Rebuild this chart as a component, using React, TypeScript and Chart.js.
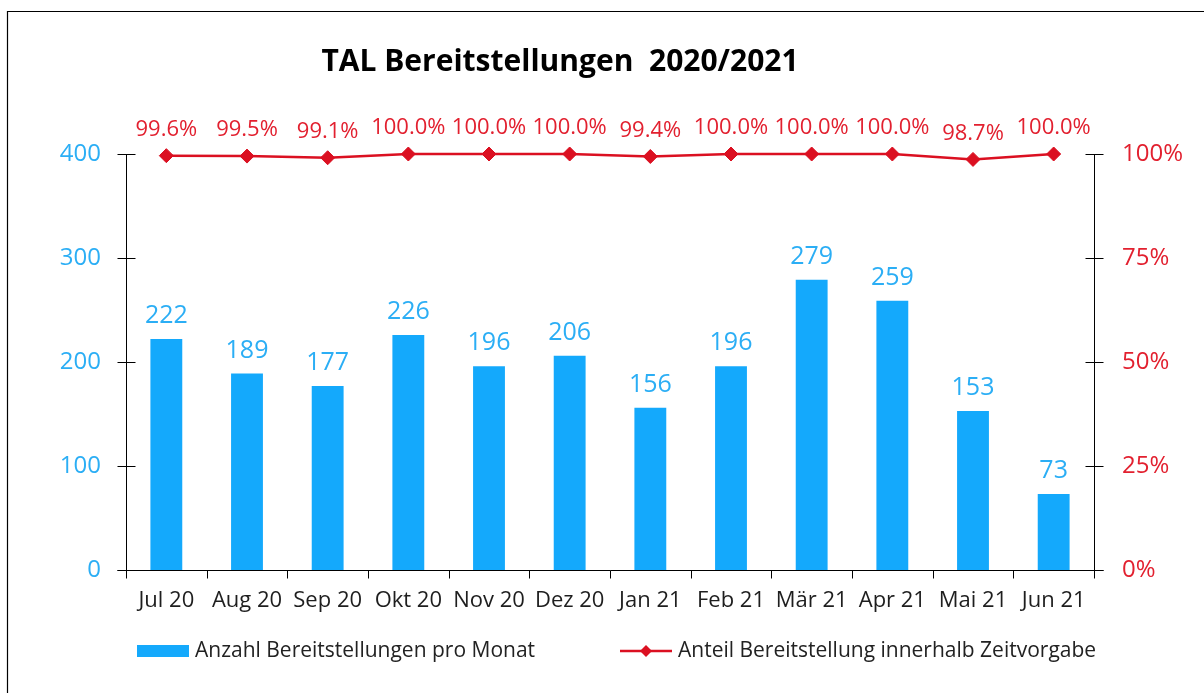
import React, { useEffect, useRef } from "react";
import { Chart, registerables } from "chart.js";

Chart.register(...registerables);

const title = "TAL Bereitstellungen  2020/2021";
const categories = ["Jul 20", "Aug 20", "Sep 20", "Okt 20", "Nov 20", "Dez 20", "Jan 21", "Feb 21", "Mär 21", "Apr 21", "Mai 21", "Jun 21"];
const bereitstellungen = [222, 189, 177, 226, 196, 206, 156, 196, 279, 259, 153, 73];
const anteil = [99.6, 99.5, 99.1, 100.0, 100.0, 100.0, 99.4, 100.0, 100.0, 100.0, 98.7, 100.0];
const leftTicks = [0, 100, 200, 300, 400];
const rightTicks = [0, 25, 50, 75, 100];
const barLegend = "Anzahl Bereitstellungen pro Monat";
const lineLegend = "Anteil Bereitstellung innerhalb Zeitvorgabe";

const FONT = "'Open Sans', 'Noto Sans', sans-serif";
const BAR_COLOR = "#14A9FC";
const BLUE_TEXT = "#2BAEF5";
const LINE_COLOR = "#DB1021";
const RED_TEXT = "#E2202F";
const DARK = "#1E1E1E";

const decorPlugin = {
  id: "decor",
  beforeDraw(chart: any) {
    const ctx = chart.ctx;
    ctx.save();
    ctx.fillStyle = "#ffffff";
    ctx.fillRect(0, 0, chart.width, chart.height);
    ctx.strokeStyle = "#000";
    ctx.lineWidth = 1.2;
    ctx.beginPath();
    ctx.moveTo(7.5, chart.height + 5);
    ctx.lineTo(7.5, 11.5);
    ctx.lineTo(chart.width + 5, 11.5);
    ctx.stroke();
    ctx.restore();
  },
  beforeDatasetsDraw(chart: any) {
    const ctx = chart.ctx;
    const area = chart.chartArea;
    const xs = chart.scales.x;
    const ys = chart.scales.y;
    const y1 = chart.scales.y1;
    ctx.save();
    ctx.strokeStyle = "#000";
    ctx.lineWidth = 1;
    const lx = Math.round(area.left) + 0.5;
    const rx = Math.round(area.right) + 0.5;
    const by = Math.round(area.bottom) + 0.5;
    ctx.beginPath();
    ctx.moveTo(lx, ys.getPixelForValue(leftTicks[leftTicks.length - 1]));
    ctx.lineTo(lx, by + 8);
    ctx.moveTo(rx, y1.getPixelForValue(rightTicks[rightTicks.length - 1]));
    ctx.lineTo(rx, by + 8);
    ctx.moveTo(lx - 9, by);
    ctx.lineTo(rx + 9, by);
    leftTicks.forEach((v) => {
      const py = Math.round(ys.getPixelForValue(v)) + 0.5;
      ctx.moveTo(lx - 9, py);
      ctx.lineTo(lx + 9, py);
    });
    rightTicks.forEach((v) => {
      const py = Math.round(y1.getPixelForValue(v)) + 0.5;
      ctx.moveTo(rx - 9, py);
      ctx.lineTo(rx + 9, py);
    });
    const step = (area.right - area.left) / categories.length;
    for (let i = 1; i < categories.length; i++) {
      const px = Math.round(xs.getPixelForValue(i) - step / 2) + 0.5;
      ctx.moveTo(px, by);
      ctx.lineTo(px, by + 8);
    }
    ctx.stroke();
    ctx.restore();
  },
  afterDatasetsDraw(chart: any) {
    const ctx = chart.ctx;
    ctx.save();
    const barMeta = chart.getDatasetMeta(1);
    ctx.fillStyle = BLUE_TEXT;
    ctx.font = `25px ${FONT}`;
    ctx.textAlign = "center";
    ctx.textBaseline = "middle";
    barMeta.data.forEach((el: any, i: number) => {
      ctx.fillText(String(bereitstellungen[i]), el.x, el.y - 23);
    });
    const lineMeta = chart.getDatasetMeta(0);
    ctx.fillStyle = RED_TEXT;
    ctx.font = `22px ${FONT}`;
    lineMeta.data.forEach((el: any, i: number) => {
      ctx.fillText(anteil[i].toFixed(1) + "%", el.x, el.y - 26);
    });

    ctx.fillStyle = "#000";
    ctx.font = `bold 30px ${FONT}`;
    ctx.fillText(title, 560, 62);

    ctx.textAlign = "left";
    ctx.font = `21px ${FONT}`;
    ctx.fillStyle = BAR_COLOR;
    ctx.fillRect(137, 645, 52, 12);
    ctx.fillStyle = "#222";
    ctx.fillText(barLegend, 195, 651);
    ctx.strokeStyle = LINE_COLOR;
    ctx.lineWidth = 2.5;
    ctx.beginPath();
    ctx.moveTo(620, 651);
    ctx.lineTo(672, 651);
    ctx.stroke();
    ctx.fillStyle = LINE_COLOR;
    ctx.beginPath();
    ctx.moveTo(646, 645);
    ctx.lineTo(652, 651);
    ctx.lineTo(646, 657);
    ctx.lineTo(640, 651);
    ctx.closePath();
    ctx.fill();
    ctx.fillStyle = "#222";
    ctx.fillText(lineLegend, 678, 651);
    ctx.restore();
  },
};

export default function App() {
  const ref = useRef<HTMLCanvasElement | null>(null);
  useEffect(() => {
    if (!ref.current) return;
    const chart = new Chart(ref.current, {
      type: "bar",
      data: {
        labels: categories,
        datasets: [
          {
            type: "line",
            label: lineLegend,
            data: anteil,
            yAxisID: "y1",
            clip: false,
            borderColor: LINE_COLOR,
            backgroundColor: LINE_COLOR,
            borderWidth: 2.5,
            pointStyle: "rectRot",
            pointRadius: 7,
            pointBorderWidth: 1,
            pointBorderColor: LINE_COLOR,
            pointBackgroundColor: LINE_COLOR,
            tension: 0,
            order: 0,
          } as any,
          {
            type: "bar",
            label: barLegend,
            data: bereitstellungen,
            yAxisID: "y",
            backgroundColor: BAR_COLOR,
            barPercentage: 0.395,
            categoryPercentage: 1,
            order: 1,
          },
        ],
      },
      options: {
        responsive: false,
        devicePixelRatio: 1,
        animation: false,
        layout: { padding: { top: 154, left: 0, right: 0, bottom: 0 } },
        plugins: {
          legend: { display: false },
          title: { display: false },
          tooltip: { enabled: false },
        },
        scales: {
          x: {
            type: "category",
            offset: true,
            grid: { display: false, drawTicks: false },
            border: { display: false },
            ticks: {
              color: DARK,
              font: { family: FONT, size: 22 },
              padding: 18,
              maxRotation: 0,
              autoSkip: false,
            },
            afterFit: (s: any) => {
              s.height = 123;
            },
          },
          y: {
            position: "left",
            min: 0,
            max: 400,
            grid: { display: false, drawTicks: false },
            border: { display: false },
            ticks: {
              color: BLUE_TEXT,
              font: { family: FONT, size: 24 },
              padding: 25,
            },
            afterBuildTicks: (s: any) => {
              s.ticks = leftTicks.map((v) => ({ value: v }));
            },
            afterFit: (s: any) => {
              s.width = 126;
            },
          },
          y1: {
            position: "right",
            min: 0,
            max: 100,
            grid: { display: false, drawTicks: false },
            border: { display: false },
            ticks: {
              color: RED_TEXT,
              font: { family: FONT, size: 24 },
              padding: 28,
              callback: (v: any) => v + "%",
            },
            afterBuildTicks: (s: any) => {
              s.ticks = rightTicks.map((v) => ({ value: v }));
            },
            afterFit: (s: any) => {
              s.width = 110;
            },
          },
        },
      } as any,
      plugins: [decorPlugin],
    });
    return () => chart.destroy();
  }, []);
  return (
    <div style={{ position: "fixed", left: 0, top: 0, width: 1204, height: 693, background: "#fff" }}>
      <canvas ref={ref} width={1204} height={693} style={{ display: "block" }} />
    </div>
  );
}
